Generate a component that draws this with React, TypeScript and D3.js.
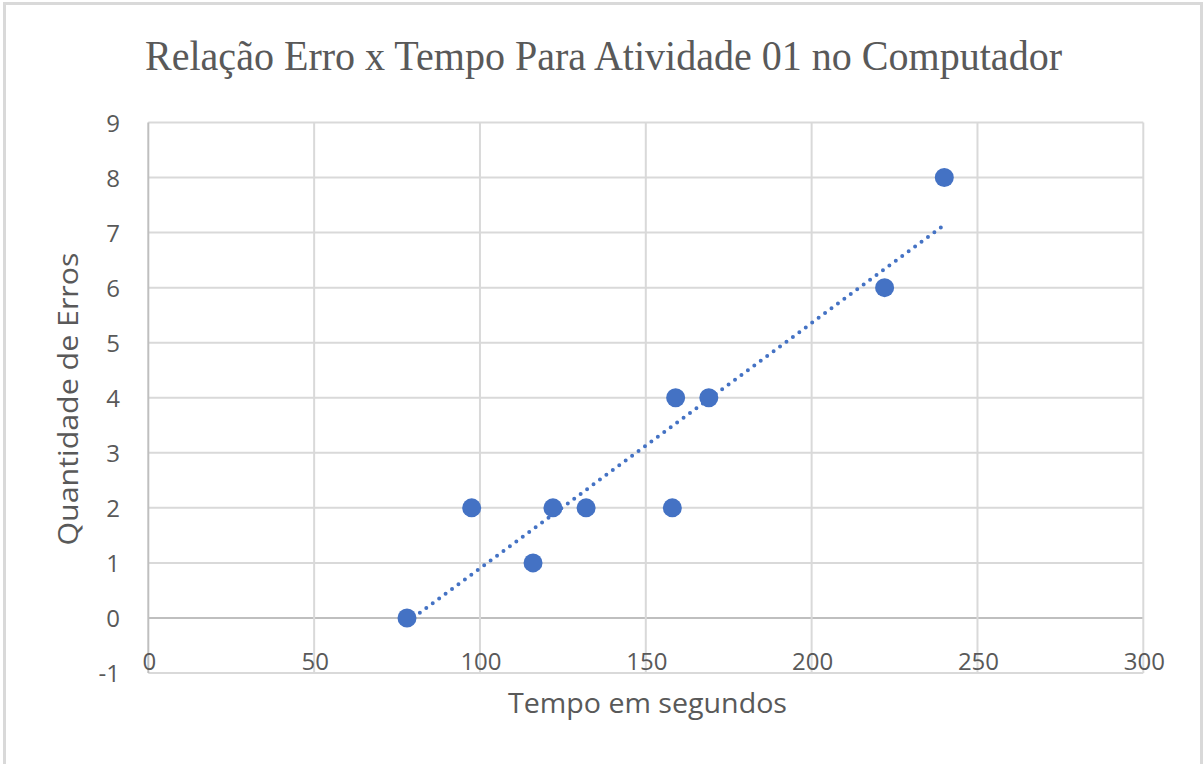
import React from "react";
import * as d3 from "d3";

const tempos = [78, 97.5, 116, 122, 132, 158, 159, 169, 222, 240];
const erros = [0, 2, 1, 2, 2, 2, 4, 4, 6, 8];
const xTicks = [0, 50, 100, 150, 200, 250, 300];
const yTicks = [-1, 0, 1, 2, 3, 4, 5, 6, 7, 8, 9];
const title = "Relação Erro x Tempo Para Atividade 01 no Computador";
const xTitle = "Tempo em segundos";
const yTitle = "Quantidade de Erros";

export default function App() {
  const W = 1204, H = 764;
  const x = d3.scaleLinear().domain([0, 300]).range([148.3, 1143.3]);
  const y = d3.scaleLinear().domain([-1, 9]).range([673, 122.5]);

  const mx = d3.mean(tempos)!;
  const my = d3.mean(erros)!;
  let sxy = 0, sxx = 0;
  tempos.forEach((t, i) => { sxy += (t - mx) * (erros[i] - my); sxx += (t - mx) ** 2; });
  const slope = sxy / sxx;
  const icpt = my - slope * mx;
  const [x0, x1] = d3.extent(tempos) as [number, number];
  const trend = d3.line<number>().x(d => x(d)).y(d => y(icpt + slope * d))([x0, x1]);

  const tickFont = "'Open Sans', 'Noto Sans', sans-serif";
  const grid = "#d9d9d9";
  const axisCol = "#bfbfbf";
  const textCol = "#595959";

  return (
    <svg width={W} height={H} style={{ position: "absolute", left: 0, top: 0, background: "#fff" }}>
      <rect x={4.5} y={3.5} width={1197} height={780} fill="#fff" stroke="#d9d9d9" strokeWidth={3} />
      <text x={603.5} y={70} textAnchor="middle" fontFamily="'Liberation Serif', 'DejaVu Serif', serif"
        fontSize={42} fill={textCol} textLength={917} lengthAdjust="spacingAndGlyphs">{title}</text>

      {yTicks.map(t => (
        <line key={"gy" + t} x1={x(0)} x2={x(300)} y1={y(t)} y2={y(t)}
          stroke={t === 0 ? axisCol : grid} strokeWidth={2} />
      ))}
      {xTicks.map(t => (
        <line key={"gx" + t} x1={x(t)} x2={x(t)} y1={y(9)} y2={y(-1)}
          stroke={t === 0 ? axisCol : grid} strokeWidth={2} />
      ))}

      {yTicks.map(t => (
        <text key={"ly" + t} x={120} y={y(t)} dy="0.38em" textAnchor="end"
          fontFamily={tickFont} fontSize={24} fill={textCol}>{t}</text>
      ))}
      {xTicks.map(t => (
        <text key={"lx" + t} x={x(t) + 1} y={670} textAnchor="middle"
          fontFamily={tickFont} fontSize={24} fill={textCol}>{t}</text>
      ))}

      <text x={647.5} y={713} textAnchor="middle" fontFamily={tickFont} fontSize={27}
        fill={textCol} textLength={279} lengthAdjust="spacingAndGlyphs">{xTitle}</text>
      <text transform={`translate(78,399) rotate(-90)`} textAnchor="middle" fontFamily={tickFont}
        fontSize={27} fill={textCol} textLength={293} lengthAdjust="spacingAndGlyphs">{yTitle}</text>

      <path d={trend!} fill="none" stroke="#4472C4" strokeWidth={4}
        strokeDasharray="0 8" strokeLinecap="round" />

      {tempos.map((t, i) => (
        <circle key={"p" + i} cx={x(t)} cy={y(erros[i])} r={9.5} fill="#4472C4" />
      ))}
    </svg>
  );
}
